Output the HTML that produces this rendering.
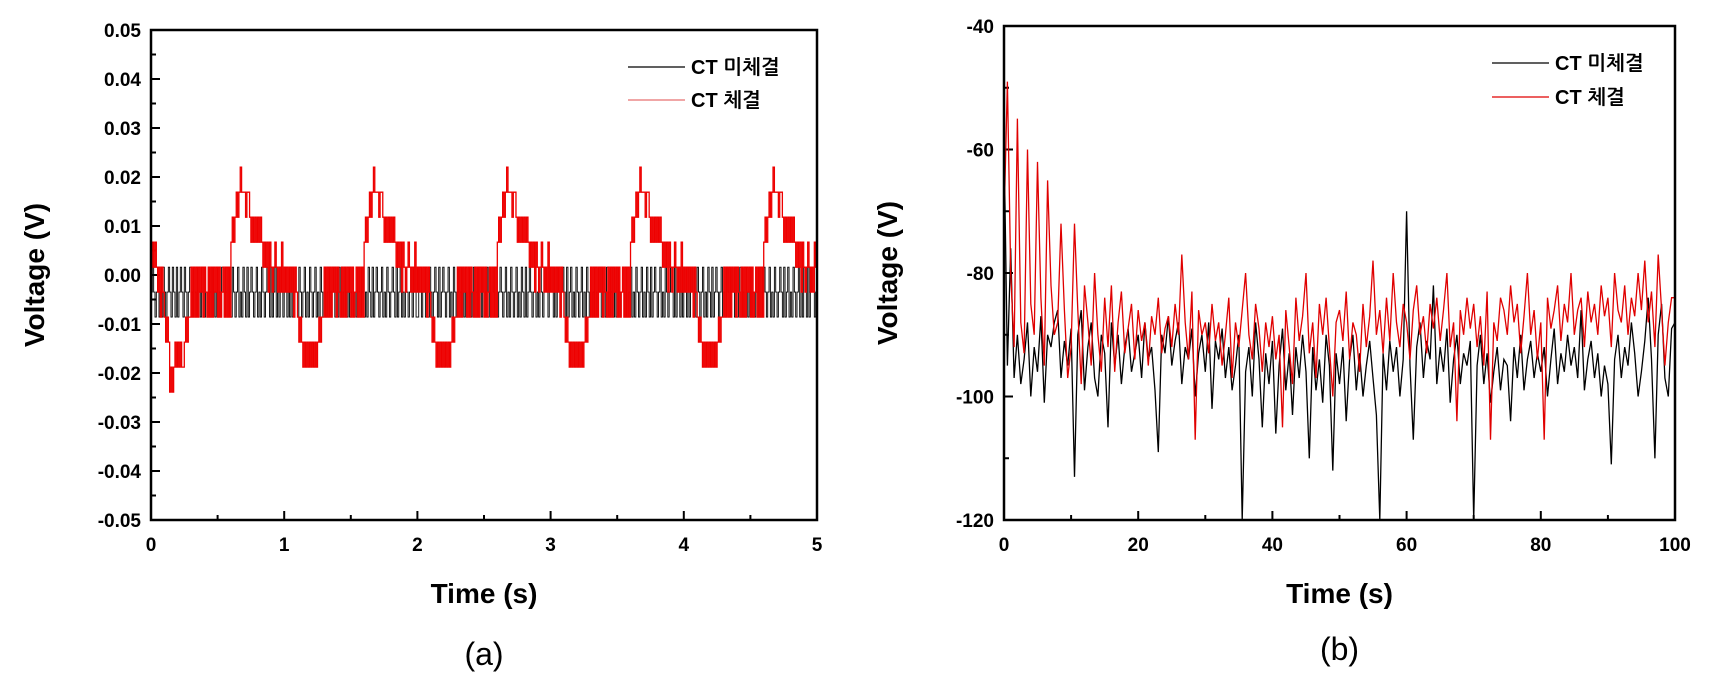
<!DOCTYPE html>
<html><head><meta charset="utf-8">
<style>
html,body{margin:0;padding:0;background:#fff;}
svg{display:block;font-family:"Liberation Sans","NanumGothic","Noto Sans CJK KR",sans-serif;}
.tk{font-size:19px;font-weight:bold;}
.ax{font-size:28px;font-weight:bold;}
.lg{font-size:20px;font-weight:bold;}
.cap{font-size:32px;}
</style></head>
<body>
<svg id="fig" width="1712" height="697" viewBox="0 0 1712 697" xmlns="http://www.w3.org/2000/svg">
<g id="chartA"></g>
<g id="chartB"></g>
</svg>
<script>
// ---- Chart (a) data ----
const aXTicks = [0,1,2,3,4,5];
const aYTicks = [-0.05,-0.04,-0.03,-0.02,-0.01,0.00,0.01,0.02,0.03,0.04,0.05];
const aYLabels = ["-0.05","-0.04","-0.03","-0.02","-0.01","0.00","0.01","0.02","0.03","0.04","0.05"];
const aLevels = [-0.0239,-0.0188,-0.0137,-0.0086,-0.0035,0.0016,0.0067,0.0118,0.0169,0.0220];
// red (CT 체결) quantized level codes, one char per 0.01 s
const aRed =
 "5656545354" + "32320101212121123233" + "535353545354353535453534535353" + "676787" + "89888788" + "7676767676" + "5656465456545464" +
 "5454545354" + "32321212121212123233" + "535353545354353535453534535353" + "676787" + "89888788" + "7676767676" + "5656465456545464" +
 "5454545354" + "32321212121212123233" + "535354535354353535453534535353" + "676787" + "89888788" + "7676767676" + "5656465456545464" +
 "5454545354" + "32321212121212123233" + "535353545354353535453534535353" + "676787" + "89888788" + "7676767676" + "5656465456545464" +
 "5454545354" + "32321212121212123233" + "535353545354353535453534535353" + "676787" + "89888788" + "7676767676" + "5656465456545465";
// black (CT 미체결) quantized level codes, one char per 0.01 s
const aBlack =
 "4543453435434543543534543543453454354345343543543454354345343543453435435345434534354345435345343543" +
 "4534353454354345343543453435435345434534354345435345343543453435435345434534354345435345343543453543" +
 "3543453435434543534543453435434543534354345343543534534354353454345343543453435435345434534354345435" +
 "4534354345435345343543453435435345434534435434534354345435345343543453435435345434534354345435345343" +
 "5435345343543453435435345434534354345435345343543453435435345434534354345435345343543453435435345434";

// ---- Chart (b) data ----
const bXTicks = [0,20,40,60,80,100];
const bYTicks = [-120,-100,-80,-60,-40];
const bStep = 0.5;
const bRed = [
-72,-49,-80,-92,-55,-88,-93,-60,-85,-90,
-62,-84,-95,-65,-82,-90,-88,-72,-86,-97,
-92,-72,-86,-98,-82,-88,-95,-80,-90,-96,
-84,-92,-82,-96,-88,-83,-93,-89,-85,-94,
-86,-91,-88,-95,-87,-90,-84,-93,-89,-87,
-92,-85,-90,-77,-88,-94,-83,-107,-86,-90,
-88,-93,-85,-91,-88,-95,-90,-84,-97,-88,
-92,-86,-80,-90,-94,-85,-89,-96,-88,-92,
-87,-94,-90,-105,-86,-92,-98,-84,-91,-87,
-80,-93,-88,-97,-85,-90,-84,-92,-100,-88,
-86,-91,-83,-94,-88,-90,-96,-85,-92,-87,
-78,-90,-86,-93,-84,-91,-80,-88,-92,-85,
-88,-94,-86,-82,-90,-87,-93,-85,-89,-84,
-91,-86,-80,-92,-88,-104,-86,-90,-84,-89,
-85,-92,-87,-95,-83,-107,-88,-91,-84,-86,
-90,-82,-88,-85,-93,-87,-80,-90,-86,-94,
-88,-107,-84,-89,-86,-82,-91,-85,-88,-80,
-90,-86,-84,-92,-83,-88,-85,-90,-82,-87,
-84,-92,-80,-86,-88,-82,-90,-84,-87,-80,
-86,-78,-88,-83,-92,-77,-86,-95,-88,-84,-84];
const bBlack = [
-58,-95,-76,-97,-90,-98,-94,-88,-100,-92,
-96,-87,-101,-90,-92,-88,-86,-97,-91,-95,
-89,-113,-90,-86,-99,-92,-88,-97,-100,-90,
-93,-105,-88,-95,-90,-98,-92,-89,-96,-93,
-90,-97,-88,-94,-92,-99,-109,-90,-93,-87,
-95,-91,-88,-98,-92,-94,-89,-100,-93,-90,
-96,-88,-102,-91,-94,-89,-97,-92,-99,-95,
-90,-120,-96,-92,-100,-88,-94,-105,-93,-98,
-91,-106,-95,-89,-99,-93,-103,-92,-97,-90,
-96,-110,-92,-99,-94,-101,-90,-95,-112,-93,
-98,-92,-104,-94,-90,-99,-93,-100,-95,-91,
-97,-103,-120,-93,-99,-91,-96,-92,-100,-94,
-70,-95,-107,-92,-88,-97,-91,-94,-82,-98,
-92,-96,-89,-101,-94,-90,-98,-93,-95,-91,
-120,-95,-90,-98,-93,-101,-96,-92,-99,-94,
-95,-104,-92,-97,-90,-99,-94,-91,-97,-93,
-96,-92,-100,-94,-89,-98,-93,-96,-90,-95,
-92,-97,-86,-99,-94,-91,-97,-93,-100,-95,
-98,-111,-94,-90,-97,-92,-95,-88,-93,-100,
-96,-91,-84,-94,-110,-90,-85,-97,-100,-89,-88];

const NS="http://www.w3.org/2000/svg";
function mk(parent,tag,attrs,text){
  const e=document.createElementNS(NS,tag);
  for(const k in attrs) e.setAttribute(k,attrs[k]);
  if(text!==undefined) e.textContent=text;
  parent.appendChild(e); return e;
}
function axes(g,L,R,T,B,xmin,xmax,ymin,ymax,xT,xMinor,yT,yLab,yMinor,xName,yName,cap,capY,tag){
  const sx=v=>L+(v-xmin)/(xmax-xmin)*(R-L);
  const sy=v=>B-(v-ymin)/(ymax-ymin)*(B-T);
  const ticks=mk(g,'g',{stroke:'#000','stroke-width':2});
  
  
  xT.forEach((v,i)=>{
    mk(ticks,'line',{x1:sx(v),x2:sx(v),y1:B,y2:B-9});
    const t=mk(g,'text',{x:sx(v),y:B+31,'text-anchor':'middle',class:'tk'},String(v));
    
    
  });
  xMinor.forEach(v=>mk(ticks,'line',{x1:sx(v),x2:sx(v),y1:B,y2:B-5}));
  yT.forEach((v,i)=>{
    mk(ticks,'line',{x1:L,x2:L+9,y1:sy(v),y2:sy(v)});
    const t=mk(g,'text',{x:L-10,y:sy(v)+7,'text-anchor':'end',class:'tk'},yLab[i]);
    
    
  });
  yMinor.forEach(v=>mk(ticks,'line',{x1:L,x2:L+5,y1:sy(v),y2:sy(v)}));
  const xt=mk(g,'text',{x:(L+R)/2,y:B+83,'text-anchor':'middle',class:'ax'},xName);
  
  
  const yt=mk(g,'text',{x:0,y:0,'text-anchor':'middle',class:'ax',transform:`translate(${L-107},${(T+B)/2}) rotate(-90)`},yName);
  
  
  const c=mk(g,'text',{x:(L+R)/2,y:capY,'text-anchor':'middle',class:'cap'},cap);
  
  
  return {sx,sy};
}
function frame(g,L,R,T,B,tag){
  const f=mk(g,'rect',{x:L,y:T,width:R-L,height:B-T,fill:'none',stroke:'#000','stroke-width':2.5});
  
  
}
function legend(g,x,y1,y2,tag){
  const e1=mk(g,'g',{});
  
  
  mk(e1,'line',{x1:x,x2:x+57,y1:y1,y2:y1,stroke:'#000','stroke-width':1.2});
  mk(e1,'text',{x:x+63,y:y1+7,class:'lg'},'CT 미체결');
  const e2=mk(g,'g',{});
  
  
  mk(e2,'line',{x1:x,x2:x+57,y1:y2,y2:y2,stroke:tag==='a'?'#e87070':'#e00000','stroke-width':1.2});
  mk(e2,'text',{x:x+63,y:y2+7,class:'lg'},'CT 체결');
}

// ---- draw (a) ----
(function(){
  const g=document.getElementById('chartA');
  const L=151,R=817,T=30,B=520;
  const xMinor=[0.5,1.5,2.5,3.5,4.5];
  const yMinor=[-0.045,-0.035,-0.025,-0.015,-0.005,0.005,0.015,0.025,0.035,0.045];
  const {sx,sy}=axes(g,L,R,T,B,0,5,-0.05,0.05,aXTicks,xMinor,aYTicks,aYLabels,yMinor,'Time (s)','Voltage (V)','(a)',665,'a');
  function stepPath(codes){
    const stepX=5/codes.length;
    let d='';
    for(let i=0;i<codes.length;i++){
      const v=aLevels[+codes[i]];
      const x0=sx(i*stepX), x1=sx((i+1)*stepX);
      d+=(i===0?'M':'L')+x0.toFixed(2)+','+sy(v).toFixed(1)+'L'+x1.toFixed(2)+','+sy(v).toFixed(1);
    }
    return d;
  }
  const bk=mk(g,'path',{d:stepPath(aBlack),fill:'none',stroke:'#000','stroke-width':0.9});
  
  
  const rd=mk(g,'path',{d:stepPath(aRed),fill:'none',stroke:'#ee0000','stroke-width':1.3});
  
  
  frame(g,L,R,T,B,'a');
  legend(g,628,67,100,'a');
})();

// ---- draw (b) ----
(function(){
  const g=document.getElementById('chartB');
  const L=1004,R=1675,T=26,B=520;
  const xMinor=[10,30,50,70,90];
  const yMinor=[-110,-90,-70,-50];
  const {sx,sy}=axes(g,L,R,T,B,0,100,-120,-40,bXTicks,xMinor,bYTicks,bYTicks.map(String),yMinor,'Time (s)','Voltage (V)','(b)',660,'b');
  function line(arr){
    return arr.map((v,i)=>(i?'L':'M')+sx(i*bStep).toFixed(1)+','+sy(Math.max(v,-120)).toFixed(1)).join('');
  }
  const bk=mk(g,'path',{d:line(bBlack),fill:'none',stroke:'#000','stroke-width':1.3});
  
  
  const rd=mk(g,'path',{d:line(bRed),fill:'none',stroke:'#e00000','stroke-width':1.3});
  
  
  frame(g,L,R,T,B,'b');
  legend(g,1492,63,97,'b');
})();
</script>
</body></html>
